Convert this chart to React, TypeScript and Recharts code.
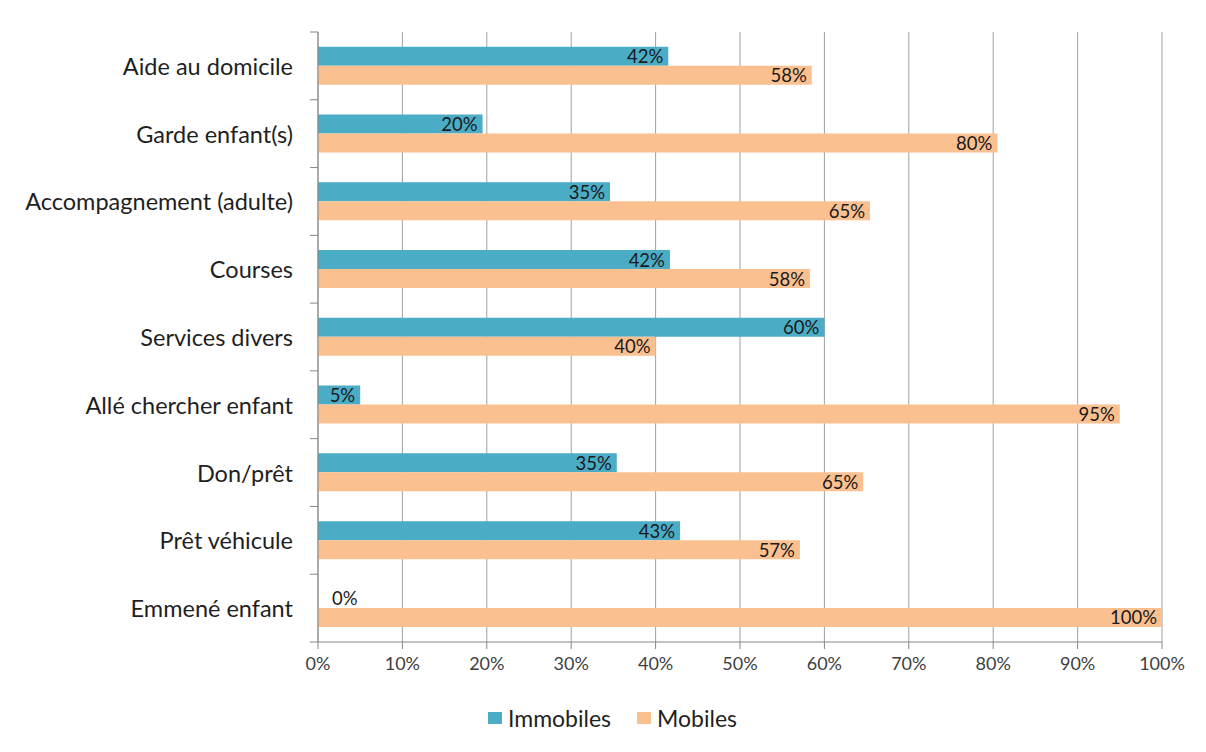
import React from "react";
import {
  BarChart,
  Bar,
  XAxis,
  YAxis,
  CartesianGrid,
  Legend,
  LabelList,
} from "recharts";

const categories = [
  "Aide au domicile",
  "Garde enfant(s)",
  "Accompagnement (adulte)",
  "Courses",
  "Services divers",
  "Allé chercher enfant",
  "Don/prêt",
  "Prêt véhicule",
  "Emmené enfant",
];
const immobiles = [41.5, 19.5, 34.6, 41.7, 60, 5, 35.4, 42.9, 0];
const mobiles = [58.5, 80.5, 65.4, 58.3, 40, 95, 64.6, 57.1, 100];
const immobilesLabels = ["42%", "20%", "35%", "42%", "60%", "5%", "35%", "43%", "0%"];
const mobilesLabels = ["58%", "80%", "65%", "58%", "40%", "95%", "65%", "57%", "100%"];
const xTicks = [0, 10, 20, 30, 40, 50, 60, 70, 80, 90, 100];
const seriesNames = ["Immobiles", "Mobiles"];
const seriesColors = ["#4bacc6", "#fac090"];

const data = categories.map((c, i) => ({
  name: c,
  immobiles: immobiles[i],
  mobiles: mobiles[i],
}));

const FONT = "Lato, 'Open Sans', sans-serif";
const AXIS_GRAY = "#868686";
const N = categories.length;

const CategoryTick = (props: any) => {
  const { x, y, payload, index } = props;
  const half = payload && payload.offset ? payload.offset : 33.9;
  const axisX = x + 25;
  return (
    <g>
      <line x1={axisX - 8} x2={axisX} y1={y - half} y2={y - half} stroke={AXIS_GRAY} strokeWidth={1} />
      {index === N - 1 && (
        <line x1={axisX - 8} x2={axisX} y1={y + half} y2={y + half} stroke={AXIS_GRAY} strokeWidth={1} />
      )}
      <text
        x={x}
        y={y}
        textAnchor="end"
        dominantBaseline="central"
        fontFamily={FONT}
        fontSize={23.5}
        fill="#1f1f1f"
      >
        {payload.value}
      </text>
    </g>
  );
};

const labelText = (x: number, y: number, anchor: "start" | "end", v: string, key?: string) => (
  <text
    key={key}
    x={x}
    y={y}
    textAnchor={anchor}
    dominantBaseline="central"
    fontFamily={FONT}
    fontSize={18.5}
    fill="#1a1a1a"
  >
    {v}
  </text>
);

const ImmobilesLabel = (props: any) => {
  const { x, y, width, height, index } = props;
  if (!width || width < 1) return null;
  return labelText(x + width - 5, y + height / 2, "end", immobilesLabels[index]);
};

const MobilesLabel = (props: any) => {
  const { x, y, width, height, index } = props;
  const parts = [labelText(x + width - 5, y + height / 2, "end", mobilesLabels[index], "m")];
  // zero-length Immobiles bar: its label sits just above, in the Immobiles slot
  if (immobiles[index] === 0) {
    parts.push(labelText(x + 14, y - height / 2, "start", immobilesLabels[index], "i"));
  }
  return <g>{parts}</g>;
};

const LegendContent = () => (
  <div
    style={{
      display: "flex",
      justifyContent: "center",
      alignItems: "center",
      height: 24,
      fontFamily: FONT,
      fontSize: 23,
      color: "#1f1f1f",
    }}
  >
    {seriesNames.map((n, i) => (
      <div key={n} style={{ display: "flex", alignItems: "center", marginRight: i === 0 ? 26 : 0 }}>
        <span
          style={{
            display: "inline-block",
            width: 14,
            height: 12,
            background: seriesColors[i],
            marginRight: 6,
          }}
        />
        <span>{n}</span>
      </div>
    ))}
  </div>
);

export default function App() {
  return (
    <div
      style={{
        position: "relative",
        width: 1206,
        height: 752,
        margin: -8,
        overflow: "hidden",
        background: "#fff",
      }}
    >
      <BarChart
        width={1206}
        height={752}
        data={data}
        layout="vertical"
        margin={{ top: 32, right: 44, bottom: 22, left: 0 }}
        barCategoryGap={14.7}
        barGap={0}
      >
        <g className="frame-border">
          <line x1={6} y1={3} x2={6} y2={760} stroke="#8a8a8a" strokeWidth={2} />
          <line x1={5} y1={4} x2={1210} y2={4} stroke="#8a8a8a" strokeWidth={2} />
        </g>
        <CartesianGrid horizontal={false} vertical={true} stroke="#a0a0a0" strokeWidth={1} />
        <XAxis
          type="number"
          domain={[0, 100]}
          ticks={xTicks}
          tickFormatter={(v: number) => `${v}%`}
          axisLine={{ stroke: AXIS_GRAY }}
          tickLine={{ stroke: AXIS_GRAY }}
          tickSize={7}
          tickMargin={8}
          height={64}
          interval={0}
          tick={{ fontFamily: FONT, fontSize: 18, fill: "#404040" }}
        />
        <YAxis
          type="category"
          dataKey="name"
          width={318}
          axisLine={{ stroke: AXIS_GRAY }}
          tickLine={false}
          tickSize={8}
          tickMargin={17}
          interval={0}
          tick={<CategoryTick />}
        />
        <Legend
          verticalAlign="bottom"
          align="center"
          content={<LegendContent />}
          wrapperStyle={{ left: 0, width: 1225 }}
        />
        <Bar dataKey="immobiles" name={seriesNames[0]} fill={seriesColors[0]} isAnimationActive={false}>
          <LabelList dataKey="immobiles" content={<ImmobilesLabel />} />
        </Bar>
        <Bar dataKey="mobiles" name={seriesNames[1]} fill={seriesColors[1]} isAnimationActive={false}>
          <LabelList dataKey="mobiles" content={<MobilesLabel />} />
        </Bar>
      </BarChart>
    </div>
  );
}
